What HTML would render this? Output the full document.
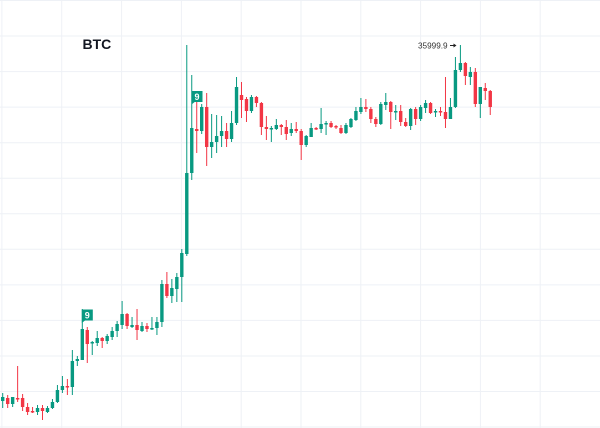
<!DOCTYPE html>
<html>
<head>
<meta charset="utf-8">
<style>
html,body{margin:0;padding:0;background:#fff;}
svg{display:block;}
</style>
</head>
<body>
<svg width="600" height="428" viewBox="0 0 600 428" xmlns="http://www.w3.org/2000/svg">
<rect width="600" height="428" fill="#ffffff"/>
<g stroke="#eef1f6" stroke-width="1">
<line x1="1.9" y1="0" x2="1.9" y2="428"/>
<line x1="61.7" y1="0" x2="61.7" y2="428"/>
<line x1="121.6" y1="0" x2="121.6" y2="428"/>
<line x1="181.4" y1="0" x2="181.4" y2="428"/>
<line x1="241.2" y1="0" x2="241.2" y2="428"/>
<line x1="301" y1="0" x2="301" y2="428"/>
<line x1="360.8" y1="0" x2="360.8" y2="428"/>
<line x1="420.6" y1="0" x2="420.6" y2="428"/>
<line x1="480.4" y1="0" x2="480.4" y2="428"/>
<line x1="540.2" y1="0" x2="540.2" y2="428"/>
<line x1="0" y1="0.5" x2="600" y2="0.5"/>
<line x1="0" y1="36" x2="600" y2="36"/>
<line x1="0" y1="71.6" x2="600" y2="71.6"/>
<line x1="0" y1="107.1" x2="600" y2="107.1"/>
<line x1="0" y1="142.7" x2="600" y2="142.7"/>
<line x1="0" y1="178.2" x2="600" y2="178.2"/>
<line x1="0" y1="213.8" x2="600" y2="213.8"/>
<line x1="0" y1="249.3" x2="600" y2="249.3"/>
<line x1="0" y1="284.9" x2="600" y2="284.9"/>
<line x1="0" y1="320.4" x2="600" y2="320.4"/>
<line x1="0" y1="356" x2="600" y2="356"/>
<line x1="0" y1="391.5" x2="600" y2="391.5"/>
<line x1="0" y1="427" x2="600" y2="427"/>
</g>

<text x="82.5" y="49" font-family="Liberation Sans, Arial, sans-serif" font-size="14" font-weight="bold" fill="#131722">BTC</text>

<g fill="#089981">
<rect x="2.20" y="393" width="1" height="15"/><rect x="1.00" y="397" width="3.4" height="4"/>
<rect x="12.15" y="397" width="1" height="10"/><rect x="10.95" y="397" width="3.4" height="7"/>
<rect x="37.03" y="405" width="1" height="10"/><rect x="35.83" y="408" width="3.4" height="4"/>
<rect x="46.98" y="406" width="1" height="7"/><rect x="45.78" y="408" width="3.4" height="4"/>
<rect x="51.95" y="399" width="1" height="10"/><rect x="50.75" y="402" width="3.4" height="6"/>
<rect x="56.93" y="385" width="1" height="18"/><rect x="55.73" y="390" width="3.4" height="12"/>
<rect x="61.90" y="376" width="1" height="17"/><rect x="60.70" y="386" width="3.4" height="4"/>
<rect x="71.85" y="350" width="1" height="45"/><rect x="70.65" y="361" width="3.4" height="26"/>
<rect x="76.83" y="356" width="1" height="10"/><rect x="75.63" y="359" width="3.4" height="2"/>
<rect x="81.80" y="309" width="1" height="51"/><rect x="80.60" y="329" width="3.4" height="31"/>
<rect x="91.75" y="341" width="1" height="14"/><rect x="90.55" y="342" width="3.4" height="1.5"/>
<rect x="96.73" y="331" width="1" height="15"/><rect x="95.53" y="338" width="3.4" height="5"/>
<rect x="106.68" y="334" width="1" height="10"/><rect x="105.48" y="336" width="3.4" height="5"/>
<rect x="111.65" y="327" width="1" height="13"/><rect x="110.45" y="331" width="3.4" height="6"/>
<rect x="116.63" y="321" width="1" height="16"/><rect x="115.43" y="324" width="3.4" height="7"/>
<rect x="121.60" y="301" width="1" height="28"/><rect x="120.40" y="314" width="3.4" height="11"/>
<rect x="131.55" y="317" width="1" height="11"/><rect x="130.35" y="325" width="3.4" height="2"/>
<rect x="141.50" y="322" width="1" height="10"/><rect x="140.30" y="326" width="3.4" height="5"/>
<rect x="151.45" y="317" width="1" height="13"/><rect x="150.25" y="328" width="3.4" height="1.5"/>
<rect x="156.43" y="317" width="1" height="18"/><rect x="155.23" y="322" width="3.4" height="6"/>
<rect x="161.40" y="280" width="1" height="47"/><rect x="160.20" y="284" width="3.4" height="38"/>
<rect x="171.35" y="279" width="1" height="24"/><rect x="170.15" y="288" width="3.4" height="8"/>
<rect x="176.33" y="273" width="1" height="29"/><rect x="175.13" y="277" width="3.4" height="12"/>
<rect x="181.30" y="249" width="1" height="53"/><rect x="180.10" y="253" width="3.4" height="24"/>
<rect x="186.28" y="45" width="1" height="211"/><rect x="185.08" y="173" width="3.4" height="81"/>
<rect x="191.25" y="75" width="1" height="105"/><rect x="190.05" y="128" width="3.4" height="45"/>
<rect x="201.20" y="104" width="1" height="30"/><rect x="200.00" y="107" width="3.4" height="24"/>
<rect x="211.15" y="114" width="1" height="44"/><rect x="209.95" y="142" width="3.4" height="5"/>
<rect x="216.13" y="115" width="1" height="38"/><rect x="214.93" y="136" width="3.4" height="6"/>
<rect x="221.10" y="116" width="1" height="31"/><rect x="219.90" y="131" width="3.4" height="5"/>
<rect x="231.05" y="111" width="1" height="31"/><rect x="229.85" y="123" width="3.4" height="16"/>
<rect x="236.03" y="77" width="1" height="48"/><rect x="234.83" y="87" width="3.4" height="36"/>
<rect x="250.95" y="95" width="1" height="18"/><rect x="249.75" y="97" width="3.4" height="14"/>
<rect x="270.85" y="126" width="1" height="16"/><rect x="269.65" y="128" width="3.4" height="1.5"/>
<rect x="275.83" y="119" width="1" height="11"/><rect x="274.63" y="125" width="3.4" height="4"/>
<rect x="290.75" y="123" width="1" height="13"/><rect x="289.55" y="129" width="3.4" height="4"/>
<rect x="305.68" y="135" width="1" height="12"/><rect x="304.48" y="136" width="3.4" height="9"/>
<rect x="310.65" y="123" width="1" height="14"/><rect x="309.45" y="128" width="3.4" height="9"/>
<rect x="320.60" y="108" width="1" height="25"/><rect x="319.40" y="124" width="3.4" height="5"/>
<rect x="325.58" y="121" width="1" height="14"/><rect x="324.38" y="123" width="3.4" height="1.5"/>
<rect x="345.48" y="123" width="1" height="11"/><rect x="344.28" y="125" width="3.4" height="8"/>
<rect x="350.45" y="118" width="1" height="10"/><rect x="349.25" y="119" width="3.4" height="8"/>
<rect x="355.43" y="107" width="1" height="14"/><rect x="354.23" y="111" width="3.4" height="9"/>
<rect x="360.40" y="98" width="1" height="16"/><rect x="359.20" y="107" width="3.4" height="5"/>
<rect x="380.30" y="102" width="1" height="23"/><rect x="379.10" y="104" width="3.4" height="20"/>
<rect x="385.28" y="93" width="1" height="17"/><rect x="384.08" y="102" width="3.4" height="3"/>
<rect x="395.23" y="105" width="1" height="15"/><rect x="394.03" y="111" width="3.4" height="1.5"/>
<rect x="410.15" y="108" width="1" height="22"/><rect x="408.95" y="109" width="3.4" height="17"/>
<rect x="420.10" y="105" width="1" height="16"/><rect x="418.90" y="107" width="3.4" height="12"/>
<rect x="425.08" y="100" width="1" height="13"/><rect x="423.88" y="103" width="3.4" height="5"/>
<rect x="435.03" y="109" width="1" height="8"/><rect x="433.83" y="111" width="3.4" height="1.5"/>
<rect x="449.95" y="98" width="1" height="21"/><rect x="448.75" y="107" width="3.4" height="12"/>
<rect x="454.93" y="57" width="1" height="51"/><rect x="453.73" y="70" width="3.4" height="37"/>
<rect x="459.90" y="45" width="1" height="27"/><rect x="458.70" y="63" width="3.4" height="7"/>
<rect x="469.85" y="67" width="1" height="18"/><rect x="468.65" y="72" width="3.4" height="5"/>
<rect x="479.80" y="87" width="1" height="31"/><rect x="478.60" y="87" width="3.4" height="17"/>
</g>

<g fill="#f23645">
<rect x="7.18" y="395" width="1" height="13"/><rect x="5.98" y="398" width="3.4" height="6"/>
<rect x="17.13" y="366" width="1" height="36"/><rect x="15.93" y="398" width="3.4" height="1.5"/>
<rect x="22.10" y="394" width="1" height="17"/><rect x="20.90" y="398" width="3.4" height="9"/>
<rect x="27.08" y="403" width="1" height="12"/><rect x="25.88" y="407" width="3.4" height="5"/>
<rect x="32.05" y="407" width="1" height="6"/><rect x="30.85" y="411" width="3.4" height="1.5"/>
<rect x="42.00" y="405" width="1" height="15"/><rect x="40.80" y="408" width="3.4" height="3"/>
<rect x="66.88" y="379" width="1" height="16"/><rect x="65.68" y="386" width="3.4" height="1.5"/>
<rect x="86.78" y="327" width="1" height="36"/><rect x="85.58" y="330" width="3.4" height="14"/>
<rect x="101.70" y="337" width="1" height="11"/><rect x="100.50" y="338" width="3.4" height="3"/>
<rect x="126.58" y="313" width="1" height="16"/><rect x="125.38" y="314" width="3.4" height="12"/>
<rect x="136.53" y="309" width="1" height="31"/><rect x="135.33" y="325" width="3.4" height="5"/>
<rect x="146.48" y="323" width="1" height="9"/><rect x="145.28" y="326" width="3.4" height="3"/>
<rect x="166.38" y="272" width="1" height="26"/><rect x="165.18" y="284" width="3.4" height="12"/>
<rect x="196.23" y="101" width="1" height="52"/><rect x="195.03" y="129" width="3.4" height="2"/>
<rect x="206.18" y="93" width="1" height="73"/><rect x="204.98" y="107" width="3.4" height="40"/>
<rect x="226.08" y="123" width="1" height="24"/><rect x="224.88" y="131" width="3.4" height="8"/>
<rect x="241.00" y="82" width="1" height="36"/><rect x="239.80" y="95" width="3.4" height="5"/>
<rect x="245.98" y="97" width="1" height="25"/><rect x="244.78" y="99" width="3.4" height="12"/>
<rect x="255.93" y="96" width="1" height="11"/><rect x="254.73" y="97" width="3.4" height="6"/>
<rect x="260.90" y="102" width="1" height="33"/><rect x="259.70" y="103" width="3.4" height="24"/>
<rect x="265.88" y="116" width="1" height="24"/><rect x="264.68" y="127" width="3.4" height="2"/>
<rect x="280.80" y="124" width="1" height="11"/><rect x="279.60" y="125" width="3.4" height="2"/>
<rect x="285.78" y="120" width="1" height="20"/><rect x="284.58" y="127" width="3.4" height="7"/>
<rect x="295.73" y="122" width="1" height="11"/><rect x="294.53" y="129" width="3.4" height="2"/>
<rect x="300.70" y="129" width="1" height="31"/><rect x="299.50" y="131" width="3.4" height="14"/>
<rect x="315.63" y="127" width="1" height="3"/><rect x="314.43" y="128" width="3.4" height="1.5"/>
<rect x="330.55" y="121" width="1" height="7"/><rect x="329.35" y="123" width="3.4" height="4"/>
<rect x="335.53" y="125" width="1" height="4"/><rect x="334.33" y="126" width="3.4" height="1.5"/>
<rect x="340.50" y="125" width="1" height="9"/><rect x="339.30" y="128" width="3.4" height="5"/>
<rect x="365.38" y="99" width="1" height="13"/><rect x="364.18" y="107" width="3.4" height="2"/>
<rect x="370.35" y="107" width="1" height="16"/><rect x="369.15" y="109" width="3.4" height="10"/>
<rect x="375.33" y="117" width="1" height="10"/><rect x="374.13" y="119" width="3.4" height="5"/>
<rect x="390.25" y="101" width="1" height="28"/><rect x="389.05" y="102" width="3.4" height="10"/>
<rect x="400.20" y="105" width="1" height="21"/><rect x="399.00" y="111" width="3.4" height="11"/>
<rect x="405.18" y="118" width="1" height="9"/><rect x="403.98" y="122" width="3.4" height="4"/>
<rect x="415.13" y="107" width="1" height="18"/><rect x="413.93" y="109" width="3.4" height="10"/>
<rect x="430.05" y="102" width="1" height="12"/><rect x="428.85" y="103" width="3.4" height="10"/>
<rect x="440.00" y="107" width="1" height="9"/><rect x="438.80" y="111" width="3.4" height="1.5"/>
<rect x="444.98" y="77" width="1" height="51"/><rect x="443.78" y="112" width="3.4" height="7"/>
<rect x="464.88" y="62" width="1" height="23"/><rect x="463.68" y="63" width="3.4" height="13"/>
<rect x="474.83" y="68" width="1" height="39"/><rect x="473.63" y="72" width="3.4" height="32"/>
<rect x="484.78" y="83" width="1" height="17"/><rect x="483.58" y="88" width="3.4" height="3"/>
<rect x="489.75" y="90" width="1" height="25"/><rect x="488.55" y="91" width="3.4" height="16"/>
</g>

<rect x="81.8" y="309.5" width="11" height="11" fill="#089981"/>
<polygon points="81.8,320.5 85,320.5 81.8,323" fill="#089981"/>
<text x="87.3" y="318.5" text-anchor="middle" font-family="Liberation Sans, Arial, sans-serif" font-size="9" font-weight="bold" fill="#ffffff">9</text>
<rect x="191.5" y="91" width="11" height="11" fill="#089981"/>
<polygon points="191.5,102 194.7,102 191.5,104.5" fill="#089981"/>
<text x="197" y="100" text-anchor="middle" font-family="Liberation Sans, Arial, sans-serif" font-size="9" font-weight="bold" fill="#ffffff">9</text>

<text x="418" y="48.5" font-family="Liberation Sans, Arial, sans-serif" font-size="8.2" fill="#333333">35999.9</text>
<line x1="450" y1="45.5" x2="455" y2="45.5" stroke="#222" stroke-width="1"/>
<polygon points="456.5,45.5 453.5,43.5 453.5,47.5" fill="#222"/>
</svg>
</body>
</html>
